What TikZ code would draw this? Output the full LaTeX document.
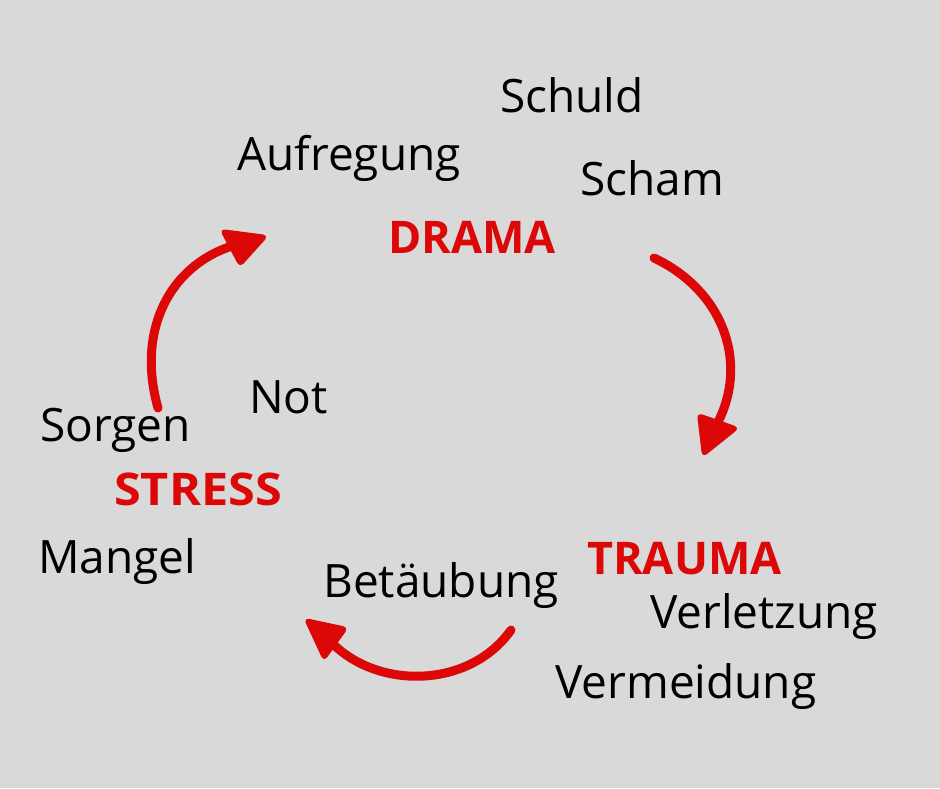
\documentclass[tikz,border=0pt]{standalone}
\usepackage{fontspec}
\setmainfont{Open Sans}
\definecolor{bg}{RGB}{217,217,217}
\definecolor{cred}{RGB}{220,8,8}
\begin{document}
\begin{tikzpicture}[x=1pt,y=-1pt,
  word/.style={anchor=base west,inner sep=0pt,font=\fontsize{46}{50}\selectfont,text=black},
  key/.style={anchor=base west,inner sep=0pt,font=\fontsize{45}{50}\selectfont\bfseries,text=cred},
  arc/.style={draw=cred,line width=9pt,line cap=round},
  head/.style={fill=cred,draw=cred,line width=2pt,rounded corners=4pt,line join=round}]
\fill[bg] (0,0) rectangle (940,788);
\useasboundingbox (0,0) rectangle (940,788);
% words
\node[word] (schuld) at (500,112) {Schuld};
\node[word] (aufregung) at (237,170) {Aufregung};
\node[word] (scham) at (580,195) {Scham};
\node[key] (drama) at (388,253) {DRAMA};
\node[word] (not) at (249,413) {Not};
\node[word] (sorgen) at (40,441) {Sorgen};
\node[key] (stress) at (114,505) {\scalebox{1.08}[1]{STRESS}};
\node[word] (mangel) at (38,573) {Mangel};
\node[key] (trauma) at (587,574) {TRAUMA};
\node[word] (betaeubung) at (323,597) {Betäubung};
\node[word] (verletzung) at (650,628) {Verletzung};
\node[word] (vermeidung) at (555,698) {Vermeidung};
% arrow 1
\coordinate (a1s) at (158,408);
\coordinate (a1e) at (232,246);
\draw[arc] (a1s) .. controls (136,330) and (170,266) .. (a1e);
\filldraw[head] (221,230) -- (267,236) -- (240,266) -- cycle;
% arrow 2
\coordinate (a2s) at (654,258);
\coordinate (a2e) at (719,420);
\draw[arc] (a2s) .. controls (722,290) and (748,360) .. (a2e);
\filldraw[head] (698,414) -- (738,428) -- (703,456) -- cycle;
% arrow 3
\coordinate (a3s) at (511,630);
\coordinate (a3e) at (333,644);
\draw[arc] (a3s) .. controls (470,688) and (380,690) .. (a3e);
\filldraw[head] (305,619) -- (347,628) -- (324,660) -- cycle;
\end{tikzpicture}
\end{document}
